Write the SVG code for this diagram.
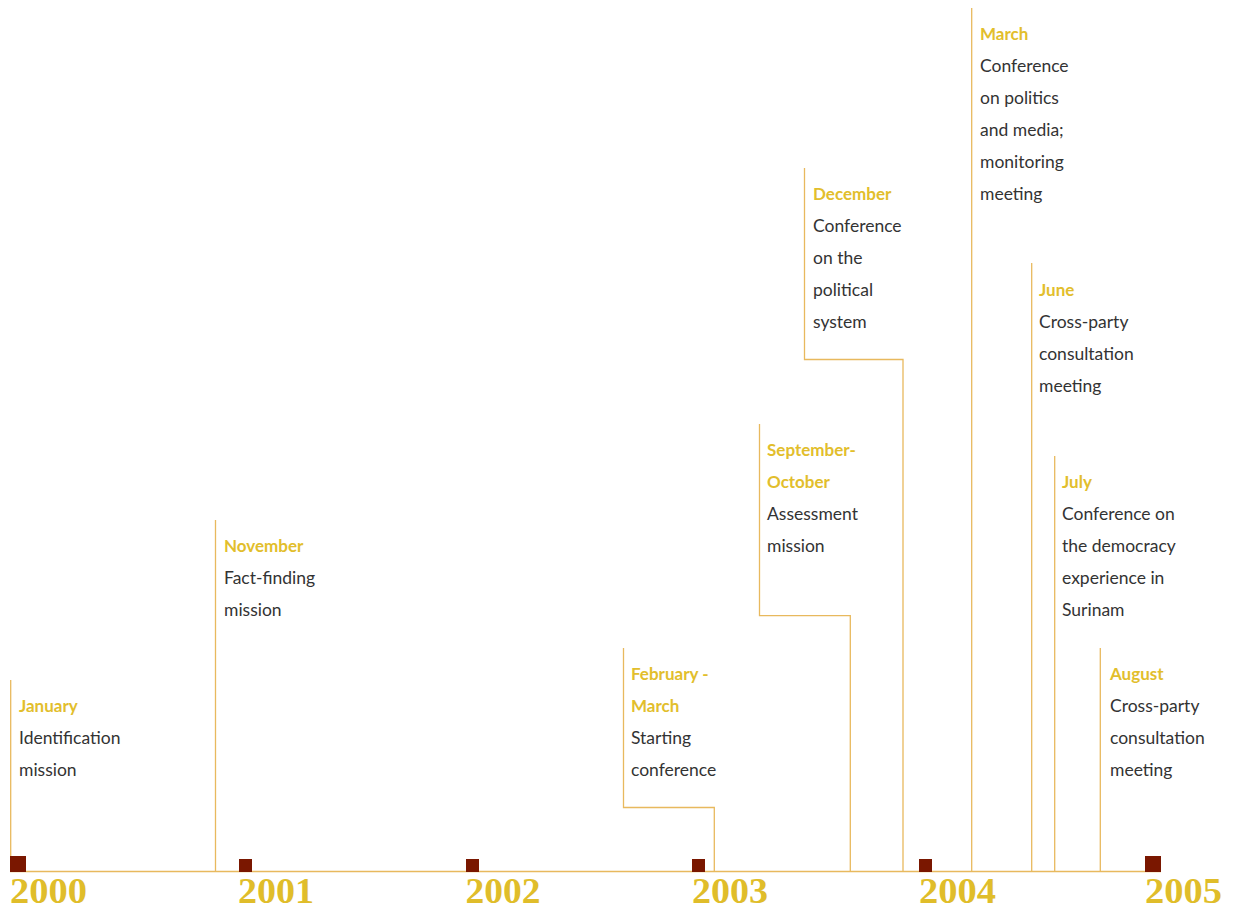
<svg xmlns="http://www.w3.org/2000/svg" width="1237" height="909" viewBox="0 0 1237 909">
<style>
.ln{fill:none;stroke:#E8B95E;stroke-width:1.3}
.mo{font-family:Lato,"Open Sans",sans-serif;font-weight:bold;font-size:17px;fill:#E2BE2C}
.tx{font-family:Lato,"Open Sans",sans-serif;font-size:17.5px;fill:#333333}
.yr{font-family:"Liberation Serif","Times New Roman",serif;font-weight:bold;font-size:35px;fill:#E0BD2A}
.sq{fill:#7A1700}
</style>
<rect width="1237" height="909" fill="#ffffff"/>
<g id="connectors">
<line class="ln" x1="10" y1="871.5" x2="1161" y2="871.5"/>
<polyline class="ln" points="10.7,680 10.7,871.5"/>
<polyline class="ln" points="215.5,520 215.5,871.5"/>
<polyline class="ln" points="623.5,648 623.5,807.5 714.3,807.5 714.3,871.5"/>
<polyline class="ln" points="759.5,424 759.5,615.7 850.3,615.7 850.3,871.5"/>
<polyline class="ln" points="804.5,168 804.5,359.5 903,359.5 903,871.5"/>
<polyline class="ln" points="971.7,8 971.7,871.5"/>
<polyline class="ln" points="1031.7,263 1031.7,871.5"/>
<polyline class="ln" points="1054.7,456 1054.7,871.5"/>
<polyline class="ln" points="1100.3,648 1100.3,871.5"/>
</g>
<g id="year-2000"><rect class="sq" x="10" y="856" width="16" height="16"/><text class="yr" x="10" y="903" textLength="77" lengthAdjust="spacingAndGlyphs">2000</text></g>
<g id="year-2001"><rect class="sq" x="239" y="859" width="13" height="13"/><text class="yr" x="238" y="903" textLength="76" lengthAdjust="spacingAndGlyphs">2001</text></g>
<g id="year-2002"><rect class="sq" x="466" y="859" width="13" height="13"/><text class="yr" x="465.5" y="903" textLength="75" lengthAdjust="spacingAndGlyphs">2002</text></g>
<g id="year-2003"><rect class="sq" x="692" y="859" width="13" height="13"/><text class="yr" x="692" y="903" textLength="76" lengthAdjust="spacingAndGlyphs">2003</text></g>
<g id="year-2004"><rect class="sq" x="919" y="859" width="13" height="13"/><text class="yr" x="919" y="903" textLength="77" lengthAdjust="spacingAndGlyphs">2004</text></g>
<g id="year-2005"><rect class="sq" x="1145" y="856" width="16" height="16"/><text class="yr" x="1145" y="903" textLength="77" lengthAdjust="spacingAndGlyphs">2005</text></g>
<g id="events" transform="translate(0,-1)">
<g id="ev-jan-2000">
<text class="mo" x="19" y="713">January</text>
<text class="tx" x="19" y="745">Identification</text>
<text class="tx" x="19" y="777">mission</text>
</g>
<g id="ev-nov-2000">
<text class="mo" x="224" y="553">November</text>
<text class="tx" x="224" y="585">Fact-finding</text>
<text class="tx" x="224" y="617">mission</text>
</g>
<g id="ev-feb-2003">
<text class="mo" x="631" y="681">February -</text>
<text class="mo" x="631" y="713">March</text>
<text class="tx" x="631" y="745">Starting</text>
<text class="tx" x="631" y="777">conference</text>
</g>
<g id="ev-sep-2003">
<text class="mo" x="767" y="457">September-</text>
<text class="mo" x="767" y="489">October</text>
<text class="tx" x="767" y="521">Assessment</text>
<text class="tx" x="767" y="553">mission</text>
</g>
<g id="ev-dec-2003">
<text class="mo" x="813" y="201">December</text>
<text class="tx" x="813" y="233">Conference</text>
<text class="tx" x="813" y="265">on the</text>
<text class="tx" x="813" y="297">political</text>
<text class="tx" x="813" y="329">system</text>
</g>
<g id="ev-mar-2004">
<text class="mo" x="980" y="41">March</text>
<text class="tx" x="980" y="73">Conference</text>
<text class="tx" x="980" y="105">on politics</text>
<text class="tx" x="980" y="137">and media;</text>
<text class="tx" x="980" y="169">monitoring</text>
<text class="tx" x="980" y="201">meeting</text>
</g>
<g id="ev-jun-2004">
<text class="mo" x="1039" y="297">June</text>
<text class="tx" x="1039" y="329">Cross-party</text>
<text class="tx" x="1039" y="361">consultation</text>
<text class="tx" x="1039" y="393">meeting</text>
</g>
<g id="ev-jul-2004">
<text class="mo" x="1062" y="489">July</text>
<text class="tx" x="1062" y="521">Conference on</text>
<text class="tx" x="1062" y="553">the democracy</text>
<text class="tx" x="1062" y="585">experience in</text>
<text class="tx" x="1062" y="617">Surinam</text>
</g>
<g id="ev-aug-2004">
<text class="mo" x="1110" y="681">August</text>
<text class="tx" x="1110" y="713">Cross-party</text>
<text class="tx" x="1110" y="745">consultation</text>
<text class="tx" x="1110" y="777">meeting</text>
</g>
</g>
</svg>
